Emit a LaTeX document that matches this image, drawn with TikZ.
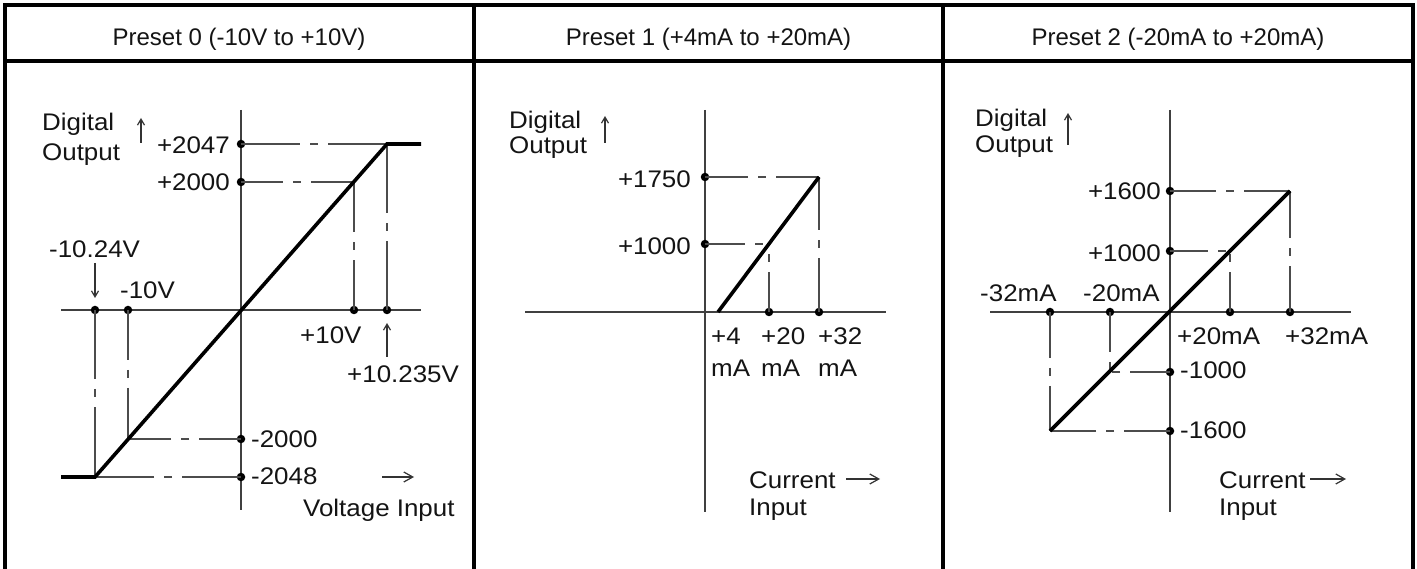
\documentclass[tikz,border=0pt]{standalone}
\usepackage{fontspec}
\setmainfont{Liberation Sans}
\newfontfamily\lblfont{Liberation Sans}[FakeStretch=1.08]
\usetikzlibrary{arrows.meta}
\begin{document}
\begin{tikzpicture}[x=1pt,y=-1pt,
  lbl/.style={font=\lblfont\fontsize{24}{28}\selectfont, text=black!92, inner sep=0pt},
  hdr/.style={font=\fontsize{24}{28}\selectfont, text=black!92, inner sep=0pt, anchor=base},
  frame/.style={line width=3.5pt, line cap=rect},
  axis/.style={line width=1.6pt, draw=black!75},
  curve/.style={line width=3.6pt, line join=miter},
  guide/.style={line width=1.3pt, draw=black!70, dash pattern=on #1pt off 10pt on 8pt off 10pt on 300pt},
  guide/.default=40,
  dot/.style={circle, fill=black, inner sep=0pt, minimum size=8.5pt},
  arr/.style={line width=1.2pt, draw=black!80, -{Straight Barb[length=9pt,width=10pt]}},
  uparr/.style={line width=1.2pt, draw=black!80, -{Straight Barb[length=6pt,width=7pt]}}
]
\useasboundingbox (0,0) rectangle (1417,569);
% frame
\draw[frame] (5,569) -- (5,5) -- (1413,5) -- (1413,569);
\draw[frame] (5,61) -- (1413,61);
\draw[frame] (474,5) -- (474,569);
\draw[frame] (943,5) -- (943,569);
\node[hdr] (h0) at (239,46) {Preset 0 (-10V to +10V)};
\node[hdr] (h1) at (708.5,46) {Preset 1 (+4mA to +20mA)};
\node[hdr] (h2) at (1178,46) {Preset 2 (-20mA to +20mA)};

% ---------- Panel 0 ----------
\draw[axis] (241,110) -- (241,510);
\draw[axis] (61,310) -- (421,310);
\node[dot] (p2047) at (241,144) {};
\node[dot] (p2000) at (241,182) {};
\node[dot] (m2000) at (241,439) {};
\node[dot] (m2048) at (241,477) {};
\node[dot] (xm1024) at (95,310) {};
\node[dot] (xm10) at (128,310) {};
\node[dot] (xp10) at (354,310) {};
\node[dot] (xp10235) at (387,310) {};
\coordinate (c1) at (95,477);
\coordinate (c2) at (387,144);
\coordinate (c3) at (354,182);
\coordinate (c4) at (128,439);
\draw[guide=59] (p2047.center) -- (c2);
\draw[guide=42] (p2000.center) -- (c3);
\draw[guide=50] (xp10.center) -- (c3);
\draw[guide=69] (xp10235.center) -- (c2);
\draw[guide=42] (m2000.center) -- (c4);
\draw[guide=59] (m2048.center) -- (c1);
\draw[guide=50] (xm10.center) -- (c4);
\draw[guide=69] (xm1024.center) -- (c1);
\draw[curve] (61,477) -- (c1) -- (c2) -- (421,144);
\node[lbl, anchor=base west] (d0a) at (42,131) {Digital};
\node[lbl, anchor=base west] (d0b) at (42,161) {Output};
\draw[uparr] (141,143) -- (141,118);
\node[lbl, anchor=base east] (l2047) at (230,154) {+2047};
\node[lbl, anchor=base east] (l2000) at (230,191) {+2000};
\node[lbl, anchor=base west] (l1024) at (49,258) {-10.24V};
\draw[uparr] (95,263) -- (95,298);
\node[lbl, anchor=base west] (l10m) at (120,299) {-10V};
\node[lbl, anchor=base west] (l10p) at (300,344) {+10V};
\draw[uparr] (387,357) -- (387,323);
\node[lbl, anchor=base west] (l10235) at (347,383) {+10.235V};
\node[lbl, anchor=base west] (lm2000) at (251,447) {-2000};
\node[lbl, anchor=base west] (lm2048) at (251,484) {-2048};
\draw[arr] (382,477) -- (414,477);
\node[lbl, anchor=base west] (vin) at (303,516) {Voltage Input};

% ---------- Panel 1 ----------
\draw[axis] (705,110) -- (705,512);
\draw[axis] (525,312) -- (886,312);
\node[dot] (q1750) at (705,177) {};
\node[dot] (q1000) at (705,244) {};
\node[dot] (q20) at (769,312) {};
\node[dot] (q32) at (819,312) {};
\coordinate (e1) at (819,177);
\coordinate (e2) at (769,244);
\draw[guide=43] (q1750.center) -- (e1);
\draw[guide=40] (q1000.center) -- (e2);
\draw[guide=54] (q32.center) -- (e1);
\draw[guide=40] (q20.center) -- (e2);
\draw[curve] (718,312) -- (e1);
\node[lbl, anchor=base west] (d1a) at (509,129) {Digital};
\node[lbl, anchor=base west] (d1b) at (509,154) {Output};
\draw[uparr] (605,143) -- (605,116);
\node[lbl, anchor=base east] (l1750) at (691,188) {+1750};
\node[lbl, anchor=base east] (l1000) at (691,255) {+1000};
\node[lbl, anchor=base west] (t4a) at (711,345) {+4};
\node[lbl, anchor=base west] (t4b) at (711,377) {mA};
\node[lbl, anchor=base west] (t20a) at (761,345) {+20};
\node[lbl, anchor=base west] (t20b) at (761,377) {mA};
\node[lbl, anchor=base west] (t32a) at (818,345) {+32};
\node[lbl, anchor=base west] (t32b) at (818,377) {mA};
\node[lbl, anchor=base west] (ci1a) at (749,488) {Current};
\node[lbl, anchor=base west] (ci1b) at (749,515) {Input};
\draw[arr] (846,479) -- (880,479);

% ---------- Panel 2 ----------
\draw[axis] (1170,110) -- (1170,512);
\draw[axis] (990,312) -- (1351,312);
\node[dot] (r1600) at (1170,191) {};
\node[dot] (r1000) at (1170,251) {};
\node[dot] (rm1000) at (1170,372) {};
\node[dot] (rm1600) at (1170,431) {};
\node[dot] (s32m) at (1050,312) {};
\node[dot] (s20m) at (1110,312) {};
\node[dot] (s20p) at (1230,312) {};
\node[dot] (s32p) at (1290,312) {};
\coordinate (f1) at (1290,191);
\coordinate (f2) at (1230,251);
\coordinate (f3) at (1110,372);
\coordinate (f4) at (1050,431);
\draw[guide=46] (r1600.center) -- (f1);
\draw[guide=38] (r1000.center) -- (f2);
\draw[guide=46] (s32p.center) -- (f1);
\draw[guide=40] (s20p.center) -- (f2);
\draw[guide=40] (rm1000.center) -- (f3);
\draw[guide=40] (s20m.center) -- (f3);
\draw[guide=46] (rm1600.center) -- (f4);
\draw[guide=46] (s32m.center) -- (f4);
\draw[curve] (f4) -- (f1);
\node[lbl, anchor=base west] (d2a) at (975,127) {Digital};
\node[lbl, anchor=base west] (d2b) at (975,153) {Output};
\draw[uparr] (1068,145) -- (1068,113);
\node[lbl, anchor=base east] (l1600) at (1161,200) {+1600};
\node[lbl, anchor=base east] (l1000b) at (1161,262) {+1000};
\node[lbl, anchor=base west] (u32m) at (980,302) {-32mA};
\node[lbl, anchor=base west] (u20m) at (1083,302) {-20mA};
\node[lbl, anchor=base west] (u20p) at (1177,345) {+20mA};
\node[lbl, anchor=base west] (u32p) at (1285,345) {+32mA};
\node[lbl, anchor=base west] (lm1000) at (1180,379) {-1000};
\node[lbl, anchor=base west] (lm1600) at (1180,438) {-1600};
\node[lbl, anchor=base west] (ci2a) at (1219,488) {Current};
\node[lbl, anchor=base west] (ci2b) at (1219,515) {Input};
\draw[arr] (1310,479) -- (1346,479);
\end{tikzpicture}
\end{document}
